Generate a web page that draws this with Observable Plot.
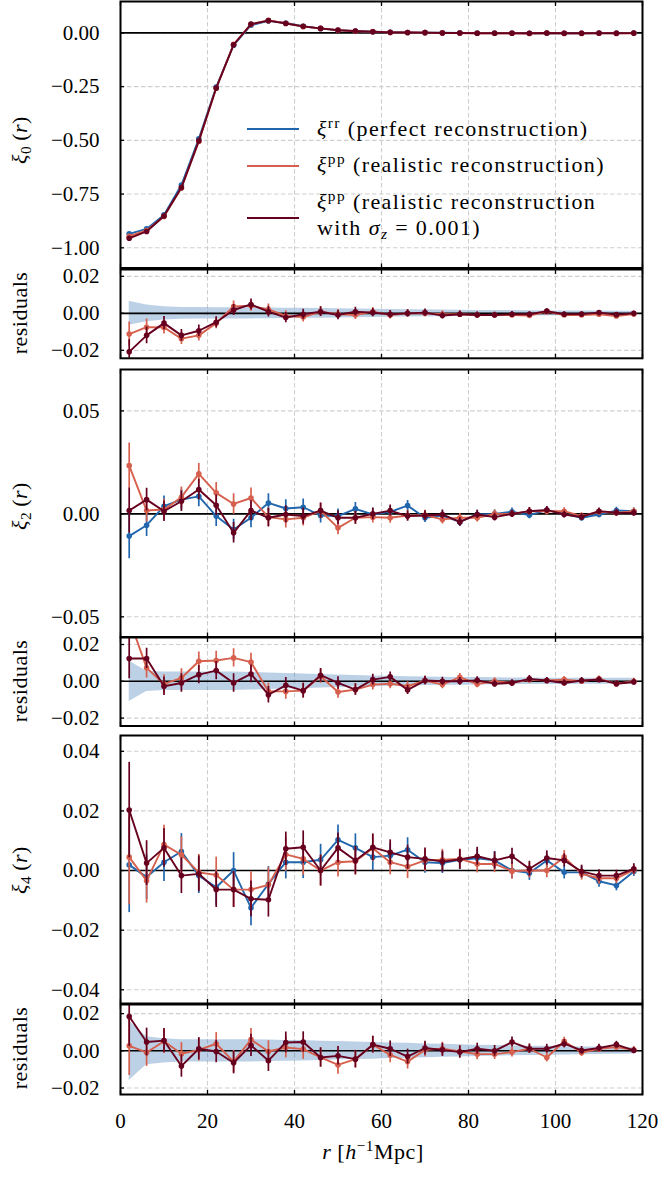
<!DOCTYPE html>
<html>
<head>
<meta charset="utf-8">
<script src="https://cdn.jsdelivr.net/npm/d3@7"></script>
<script src="https://cdn.jsdelivr.net/npm/@observablehq/plot@0.6"></script>
<style>
  body { margin: 0; background: #fff; }
  #fig { position: relative; width: 659px; height: 1178px; font-family: "Liberation Serif", serif; color: #000; overflow: hidden; }
  #fig svg.panel { position: absolute; left: 0; }
  .ylab { position: absolute; transform: translate(-50%, -50%) rotate(-90deg); white-space: nowrap; font-size: 22px; line-height: 1; letter-spacing: 0.5px; }
  .xlab { position: absolute; transform: translate(-50%, -50%); white-space: nowrap; font-size: 22px; line-height: 1; letter-spacing: 0.5px; }
  .sup { font-size: 0.7em; position: relative; top: -0.5em; }
  .sub { font-size: 0.7em; position: relative; top: 0.28em; }
  .legtxt { position: absolute; white-space: nowrap; font-size: 22px; line-height: 26px; transform: translateY(-50%); letter-spacing: 1.4px; }
  .legsw { position: absolute; height: 2px; }
</style>
</head>
<body>
<div id="fig"></div>
<script>
// ---------------- data ----------------
const r = [2, 6, 10, 14, 18, 22, 26, 30, 34, 38, 42, 46, 50, 54, 58, 62, 66, 70, 74, 78, 82, 86, 90, 94, 98, 102, 106, 110, 114, 118];

// monopole
const xi0_rr  = [-0.935, -0.912, -0.847, -0.708, -0.493, -0.252, -0.057, 0.036, 0.056, 0.046, 0.031, 0.020, 0.013, 0.008, 0.005, 0.003, 0.002, 0.001, 0.0005, 0.0, -0.0005, -0.001, -0.001, -0.0015, -0.0015, -0.0015, -0.0015, -0.0015, -0.001, -0.001];
const xi0_pp  = [-0.9462, -0.9195, -0.8546, -0.7217, -0.5049, -0.2573, -0.0533, 0.0401, 0.0581, 0.0446, 0.0290, 0.0209, 0.0126, 0.0071, 0.0059, 0.0021, 0.0020, 0.0010, 0.0, -0.0005, -0.0014, -0.0019, -0.0019, -0.0027, -0.0006, -0.0024, -0.0024, -0.0020, -0.0024, -0.0014];
const xi0_ppz = [-0.9558, -0.9239, -0.8523, -0.7199, -0.5024, -0.2568, -0.0552, 0.0408, 0.0569, 0.0437, 0.0305, 0.0209, 0.0121, 0.0089, 0.0054, 0.0025, 0.0020, 0.0014, -0.0007, -0.0005, -0.0014, -0.0019, -0.0015, -0.0020, -0.0003, -0.0020, -0.0019, -0.0011, -0.0017, -0.0010];
const err0    = [0.0065, 0.0045, 0.0036, 0.0032, 0.0031, 0.0030, 0.0030, 0.0030, 0.0029, 0.0028, 0.0027, 0.0026, 0.0025, 0.0024, 0.0022, 0.0021, 0.0020, 0.0019, 0.0018, 0.0017, 0.0016, 0.0015, 0.0015, 0.0014, 0.0013, 0.0013, 0.0012, 0.0012, 0.0011, 0.0011];
const res0_pp  = [-0.0112, -0.0075, -0.0076, -0.0137, -0.0119, -0.0053, 0.0037, 0.0041, 0.0021, -0.0014, -0.0020, 0.0009, -0.0004, -0.0009, 0.0009, -0.0009, 0.0000, 0.0000, -0.0005, -0.0005, -0.0009, -0.0009, -0.0009, -0.0012, 0.0009, -0.0009, -0.0009, -0.0005, -0.0014, -0.0004];
const res0_ppz = [-0.0208, -0.0119, -0.0053, -0.0119, -0.0094, -0.0048, 0.0018, 0.0048, 0.0009, -0.0023, -0.0005, 0.0009, -0.0009, 0.0009, 0.0004, -0.0005, 0.0000, 0.0004, -0.0012, -0.0005, -0.0009, -0.0009, -0.0005, -0.0005, 0.0012, -0.0005, -0.0004, 0.0004, -0.0007, 0.0000];

// quadrupole
const xi2_rr  = [-0.0108, -0.0055, 0.0037, 0.0069, 0.0085, -0.0011, -0.0076, -0.0019, 0.0053, 0.0026, 0.0032, -0.0008, -0.0011, 0.0024, -0.0003, 0.0010, 0.0040, -0.0019, -0.0008, -0.0039, -0.0003, 0.0000, 0.0010, -0.0006, 0.0018, 0.0000, -0.0019, -0.0003, 0.0016, 0.0013];
const xi2_pp  = [0.0234, 0.0016, 0.0021, 0.0081, 0.0194, 0.0102, 0.0048, 0.0077, -0.0016, -0.0027, -0.0019, 0.0015, -0.0068, -0.0019, -0.0016, -0.0019, -0.0008, -0.0006, -0.0027, -0.0019, -0.0019, 0.0000, 0.0000, 0.0013, 0.0013, 0.0013, -0.0011, 0.0010, 0.0005, 0.0013];
const xi2_ppz = [0.0016, 0.0069, 0.0013, 0.0061, 0.0118, 0.0042, -0.0092, 0.0016, -0.0019, -0.0003, -0.0011, 0.0016, -0.0019, -0.0019, 0.0000, 0.0016, -0.0011, -0.0008, -0.0003, -0.0039, -0.0003, -0.0016, 0.0000, 0.0013, 0.0019, -0.0003, -0.0015, 0.0013, 0.0006, 0.0005];
const err2    = [0.011, 0.0055, 0.0050, 0.0050, 0.0050, 0.0050, 0.0050, 0.0048, 0.0045, 0.0042, 0.0040, 0.0037, 0.0034, 0.0031, 0.0029, 0.0027, 0.0025, 0.0023, 0.0022, 0.0021, 0.0020, 0.0019, 0.0018, 0.0018, 0.0017, 0.0017, 0.0016, 0.0016, 0.0016, 0.0016];
const res2_pp  = [0.0340, 0.0073, -0.0015, 0.0018, 0.0109, 0.0113, 0.0127, 0.0104, -0.0055, -0.0055, -0.0051, 0.0027, -0.0058, -0.0045, -0.0018, -0.0013, -0.0027, 0.0004, -0.0018, 0.0022, -0.0015, 0.0000, -0.0009, 0.0009, 0.0004, 0.0009, 0.0000, 0.0013, -0.0013, 0.0000];
const res2_ppz = [0.0124, 0.0124, -0.0027, -0.0009, 0.0036, 0.0058, -0.0009, 0.0040, -0.0073, -0.0022, -0.0051, 0.0033, -0.0009, -0.0045, 0.0009, 0.0024, -0.0047, 0.0004, 0.0000, 0.0000, 0.0005, -0.0013, -0.0009, 0.0013, 0.0004, -0.0009, 0.0004, 0.0009, -0.0013, -0.0004];

// hexadecapole
const xi4_rr  = [0.0019, -0.0022, 0.0028, 0.0064, -0.0017, -0.0056, 0.0000, -0.0125, -0.0045, 0.0028, 0.0028, 0.0036, 0.0103, 0.0076, 0.0045, 0.0050, 0.0070, 0.0028, 0.0025, 0.0036, 0.0041, 0.0034, 0.0000, -0.0008, 0.0034, -0.0006, -0.0006, -0.0036, -0.0050, -0.0003];
const xi4_pp  = [0.0045, -0.0034, 0.0087, 0.0053, -0.0006, -0.0015, -0.0064, -0.0064, -0.0048, 0.0054, 0.0039, 0.0000, 0.0028, 0.0031, 0.0075, 0.0028, 0.0013, 0.0034, 0.0036, 0.0039, 0.0022, 0.0022, -0.0002, 0.0000, 0.0000, 0.0045, -0.0011, -0.0026, -0.0026, 0.0002];
const xi4_ppz = [0.0203, 0.0025, 0.0076, -0.0017, -0.0011, -0.0064, -0.0064, -0.0095, -0.0098, 0.0073, 0.0078, 0.0000, 0.0076, 0.0034, 0.0078, 0.0061, 0.0045, 0.0039, 0.0030, 0.0037, 0.0048, 0.0034, 0.0048, 0.0006, 0.0042, 0.0034, -0.0003, -0.0017, -0.0017, 0.0006];
const err4    = [0.016, 0.0075, 0.0065, 0.0060, 0.0060, 0.0060, 0.0060, 0.0060, 0.0058, 0.0056, 0.0055, 0.0052, 0.0050, 0.0047, 0.0045, 0.0042, 0.0040, 0.0037, 0.0035, 0.0033, 0.0030, 0.0029, 0.0027, 0.0025, 0.0024, 0.0022, 0.0021, 0.0020, 0.0018, 0.0017];
const res4_pp  = [0.0027, -0.0009, 0.0051, -0.0016, 0.0005, 0.0038, -0.0058, 0.0060, -0.0004, 0.0018, 0.0009, -0.0036, -0.0076, -0.0045, 0.0033, -0.0022, -0.0058, 0.0005, 0.0011, -0.0004, -0.0018, -0.0018, -0.0007, 0.0011, -0.0036, 0.0051, -0.0009, 0.0011, 0.0020, 0.0005];
const res4_ppz = [0.0184, 0.0047, 0.0055, -0.0082, 0.0011, -0.0004, -0.0064, 0.0029, -0.0053, 0.0045, 0.0047, -0.0036, -0.0027, -0.0045, 0.0033, 0.0011, -0.0031, 0.0015, 0.0005, -0.0007, 0.0011, 0.0000, 0.0047, 0.0011, 0.0011, 0.0038, 0.0002, 0.0015, 0.0033, 0.0002];

// ticks
const xTicks = [0, 20, 40, 60, 80, 100, 120];
const yTicks0 = [0, -0.25, -0.5, -0.75, -1];
const yTicks2 = [0.05, 0, -0.05];
const yTicks4 = [0.04, 0.02, 0, -0.02, -0.04];
const yTicksRes = [0.02, 0, -0.02];
const zeroLine = [0];

// ---------------- styling ----------------
const C = { rr: "#2166ac", pp: "#d6604d", ppz: "#67001f" };
const fmt2 = d => (d < 0 ? "\u2212" : "") + Math.abs(d).toFixed(2);
const gridStyle = { stroke: "#cfcfcf", strokeOpacity: 1, strokeWidth: 1.1, strokeDasharray: "4.5,2.5" };

function rowsOf(vals, err) {
  return r.map((x, i) => ({ r: x, v: vals[i], lo: vals[i] - err[i], hi: vals[i] + err[i] }));
}
function bandOf(err) {
  return r.map((x, i) => ({ r: x, lo: -err[i], hi: err[i] }));
}

function makePanel(cfg) {
  const mt = 2, mb = cfg.xlabels ? 48 : 2;
  const h = cfg.bottom - cfg.top + mt + mb;
  const marks = [
    Plot.gridX(xTicks, gridStyle),
    Plot.gridY(cfg.yticks, gridStyle)
  ];
  if (cfg.band) {
    marks.push(Plot.areaY(bandOf(cfg.err), { x: "r", y1: "lo", y2: "hi", fill: C.rr, fillOpacity: 0.3, clip: true }));
  }
  marks.push(Plot.ruleY(zeroLine, { stroke: "black", strokeWidth: 1.6 }));
  for (const s of cfg.series) {
    const d = rowsOf(s.values, cfg.err);
    marks.push(Plot.line(d, { x: "r", y: "v", stroke: s.color, strokeWidth: 1.9, clip: true }));
    marks.push(Plot.ruleX(d, { x: "r", y1: "lo", y2: "hi", stroke: s.color, strokeWidth: 1.7, clip: true }));
    marks.push(Plot.dot(d, { x: "r", y: "v", r: 2.8, fill: s.color, stroke: "none", clip: true }));
  }
  marks.push(Plot.frame({ stroke: "black", strokeWidth: 2 }));
  marks.push(Plot.axisY({ ticks: cfg.yticks, tickSize: -4, tickPadding: 25, tickFormat: fmt2, label: null, strokeWidth: 1.3 }));
  marks.push(Plot.axisX({ anchor: "top", ticks: xTicks, tickSize: -4, tickFormat: () => "", label: null, strokeWidth: 1.3 }));
  marks.push(Plot.axisX({ anchor: "bottom", ticks: xTicks, tickSize: -4, tickPadding: 23, tickFormat: cfg.xlabels ? (d => String(d)) : (() => ""), label: null, strokeWidth: 1.3 }));
  const svg = Plot.plot({
    width: 659, height: h,
    marginLeft: 120, marginRight: 17, marginTop: mt, marginBottom: mb,
    x: { domain: [0, 120] },
    y: { domain: cfg.domain },
    style: { background: "transparent", overflow: "visible", fontFamily: "Liberation Serif", fontSize: "21px", color: "black" },
    marks
  });
  svg.classList.add("panel");
  svg.style.top = (cfg.top - mt) + "px";
  return svg;
}

const fig = document.getElementById("fig");
const panels = [
  { top: 1, bottom: 267.5, domain: [-1.094, 0.146], yticks: yTicks0, err: err0,
    series: [{ values: xi0_rr, color: C.rr }, { values: xi0_pp, color: C.pp }, { values: xi0_ppz, color: C.ppz }] },
  { top: 268.5, bottom: 357.3, domain: [-0.0243, 0.0237], yticks: yTicksRes, err: err0, band: true,
    series: [{ values: res0_pp, color: C.pp }, { values: res0_ppz, color: C.ppz }] },
  { top: 368.5, bottom: 636, domain: [-0.0598, 0.0701], yticks: yTicks2, err: err2,
    series: [{ values: xi2_rr, color: C.rr }, { values: xi2_pp, color: C.pp }, { values: xi2_ppz, color: C.ppz }] },
  { top: 636.5, bottom: 725, domain: [-0.0243, 0.0238], yticks: yTicksRes, err: err2, band: true,
    series: [{ values: res2_pp, color: C.pp }, { values: res2_ppz, color: C.ppz }] },
  { top: 735, bottom: 1003, domain: [-0.0446, 0.0453], yticks: yTicks4, err: err4,
    series: [{ values: xi4_rr, color: C.rr }, { values: xi4_pp, color: C.pp }, { values: xi4_ppz, color: C.ppz }] },
  { top: 1003.5, bottom: 1093.5, domain: [-0.0235, 0.0249], yticks: yTicksRes, err: err4, band: true, xlabels: true,
    series: [{ values: res4_pp, color: C.pp }, { values: res4_ppz, color: C.ppz }] }
];
for (const p of panels) fig.appendChild(makePanel(p));

// axis labels
function addDiv(cls, x, y, html) {
  const d = document.createElement("div");
  d.className = cls;
  d.style.left = x + "px";
  d.style.top = y + "px";
  d.innerHTML = html;
  fig.appendChild(d);
}
addDiv("ylab", 20, 140, '<i>ξ</i><span class="sub">0</span>&#8201;(<i>r</i>)');
addDiv("ylab", 20, 313, 'residuals');
addDiv("ylab", 20, 506, '<i>ξ</i><span class="sub">2</span>&#8201;(<i>r</i>)');
addDiv("ylab", 20, 681, 'residuals');
addDiv("ylab", 20, 870, '<i>ξ</i><span class="sub">4</span>&#8201;(<i>r</i>)');
addDiv("ylab", 20, 1048, 'residuals');
addDiv("xlab", 373, 1152, '<i>r</i> [<i>h</i><span class="sup">\u22121</span>Mpc]');

// legend
const legend = [
  { color: C.rr, lineY: 128.5, texts: [{ y: 130, html: '<i>ξ</i><span class="sup">rr</span> (perfect reconstruction)' }] },
  { color: C.pp, lineY: 166, texts: [{ y: 166, html: '<i>ξ</i><span class="sup">pp</span> (realistic reconstruction)' }] },
  { color: C.ppz, lineY: 218, texts: [{ y: 203, html: '<i>ξ</i><span class="sup">pp</span> (realistic reconstruction' },
                                     { y: 229, html: 'with <i>σ</i><span class="sub"><i>z</i></span> = 0.001)' }] }
];
for (const e of legend) {
  const sw = document.createElement("div");
  sw.className = "legsw";
  sw.style.left = "247px";
  sw.style.width = "52px";
  sw.style.top = (e.lineY - 1) + "px";
  sw.style.background = e.color;
  fig.appendChild(sw);
  for (const t of e.texts) addDiv("legtxt", 317, t.y, t.html);
}
</script>
</body>
</html>
